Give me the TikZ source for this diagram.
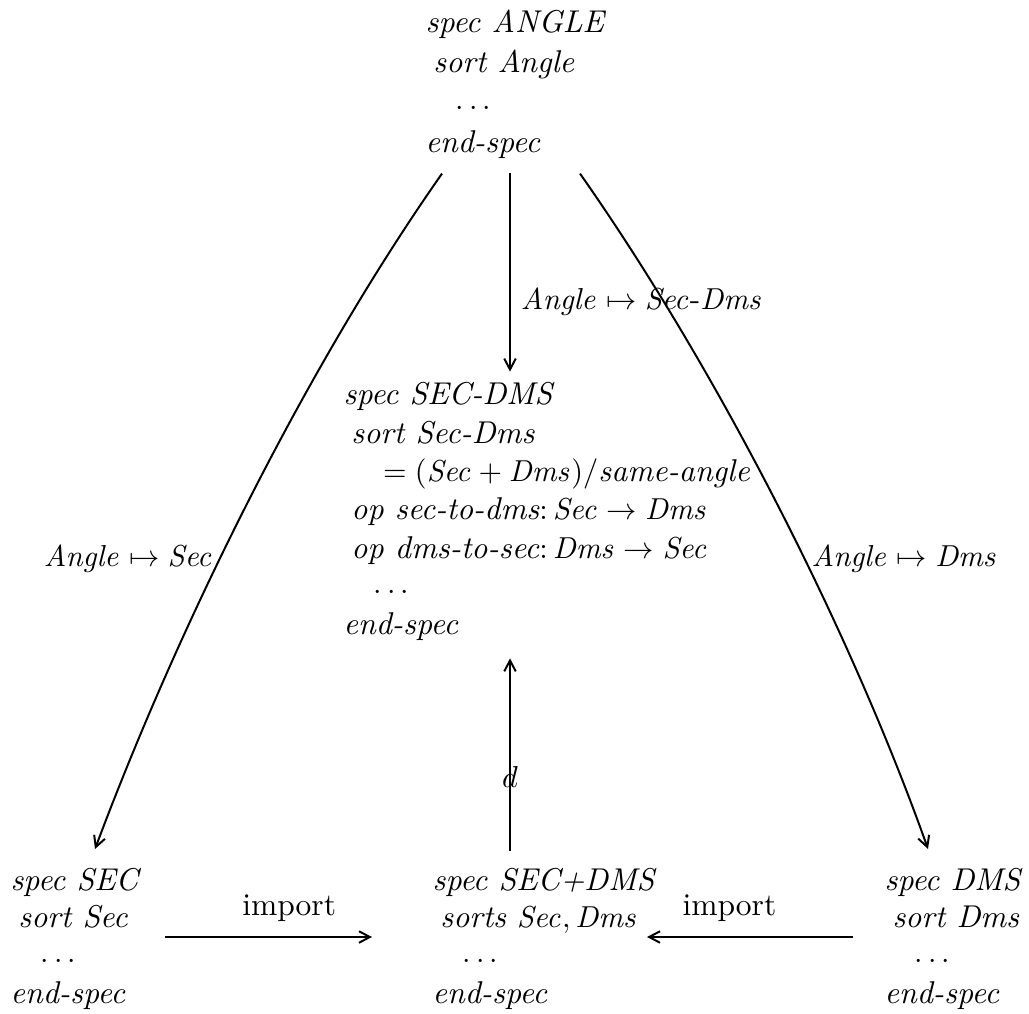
\documentclass[tikz,border=0pt]{standalone}
\usetikzlibrary{arrows.meta,calc}

% specification text: italic words, math for the symbols
\newcommand\kw[1]{\textit{#1}}
\newcommand\ind[1]{\hspace*{#1}}
\newcommand\gap{\raisebox{-0.9pt}{$\cdots$}}
% one specification block, first row on the node's baseline
\newcommand\spectab[2]{{\renewcommand\arraystretch{#1}%
  \begin{tabular}[t]{@{}l@{}}#2\end{tabular}}}

\begin{document}
\begin{tikzpicture}[
  x=0.33pt, y=-0.33pt,
  txt/.style={font=\fontsize{10.4pt}{12pt}\selectfont},
  spec/.style={txt, inner sep=0pt, anchor=base west},
  lbl/.style={txt, inner sep=2pt},
  arr/.style={line width=0.65pt, -{Straight Barb[length=3.6pt,width=3.8pt]}},
]
\useasboundingbox (0,0) rectangle (1029,1013);

% ---- specifications ----
\node[spec] (angle) at (425,33) {\spectab{1.10}{%
  \kw{spec ANGLE}\\
  \ind{2.6pt}\kw{sort Angle}\\
  \ind{10pt}\gap\\
  \kw{end-spec}}};

\node[spec] (secdms) at (343,405) {\spectab{1.053}{%
  \kw{spec SEC-DMS}\\
  \ind{2.6pt}\kw{sort Sec-Dms}\\
  \ind{13pt}$=(\mathit{Sec}+\mathit{Dms})/\mbox{\itshape same-angle}$\\
  \ind{2.6pt}\kw{op sec-to-dms}$\colon\mathit{Sec}\rightarrow\mathit{Dms}$\\
  \ind{2.6pt}\kw{op dms-to-sec}$\colon\mathit{Dms}\rightarrow\mathit{Sec}$\\
  \ind{10pt}\gap\\
  \kw{end-spec}}};

\node[spec] (sec) at (10,890) {\spectab{1.037}{%
  \kw{spec SEC}\\
  \ind{2.6pt}\kw{sort Sec}\\
  \ind{10pt}\gap\\
  \kw{end-spec}}};

\node[spec] (secplus) at (432,890) {\spectab{1.037}{%
  \kw{spec SEC+DMS}\\
  \ind{2.6pt}\kw{sorts} $\mathit{Sec},\mathit{Dms}$\\
  \ind{10pt}\gap\\
  \kw{end-spec}}};

\node[spec] (dms) at (884,890) {\spectab{1.037}{%
  \kw{spec DMS}\\
  \ind{2.6pt}\kw{sort Dms}\\
  \ind{10pt}\gap\\
  \kw{end-spec}}};

% ---- connector ports ----
\coordinate (axis) at (510,0);
\coordinate (imp) at (0,937);
\path ($(angle.south west)+(17,8)$)   coordinate (angleL)
      ($(angle.south west)+(155,8)$)  coordinate (angleR)
      ($(sec.north west)+(85,-14)$)   coordinate (secIn)
      ($(dms.north west)+(44,-14)$)   coordinate (dmsIn);

% ---- morphisms ----
\draw[arr] ($(angle.south -| axis)+(0,7)$) --
  node[txt, inner sep=0pt, anchor=base west, pos=0.69, xshift=3.3pt]
  {$\mathit{Angle}\mapsto\mathit{Sec}\mbox{-}\mathit{Dms}$}
  ($(secdms.north -| axis)+(0,-6)$);

\draw[arr] (angleL) .. controls (302,373) and (175,635) ..
  node[lbl, left, pos=0.575] {$\mathit{Angle}\mapsto\mathit{Sec}$} (secIn);

\draw[arr] (angleR) .. controls (720,373) and (852,635) ..
  node[lbl, right, pos=0.575] {$\mathit{Angle}\mapsto\mathit{Dms}$} (dmsIn);

\draw[arr, shorten <=12*0.33pt, shorten >=11.5*0.33pt]
  (secplus.north -| axis) -- node[txt, inner sep=0pt, pos=0.4] {$d$}
  (secdms.south -| axis);

\draw[arr] ($(sec.west |- imp)+(155,0)$) --
  node[txt, inner sep=0pt, above=4.6pt, pos=0.6] {import}
  ($(secplus.west |- imp)+(-60,0)$);

\draw[arr] ($(dms.west |- imp)+(-31,0)$) --
  node[txt, inner sep=0pt, above=4.6pt, pos=0.6] {import}
  ($(secplus.west |- imp)+(215,0)$);
\end{tikzpicture}
\end{document}
